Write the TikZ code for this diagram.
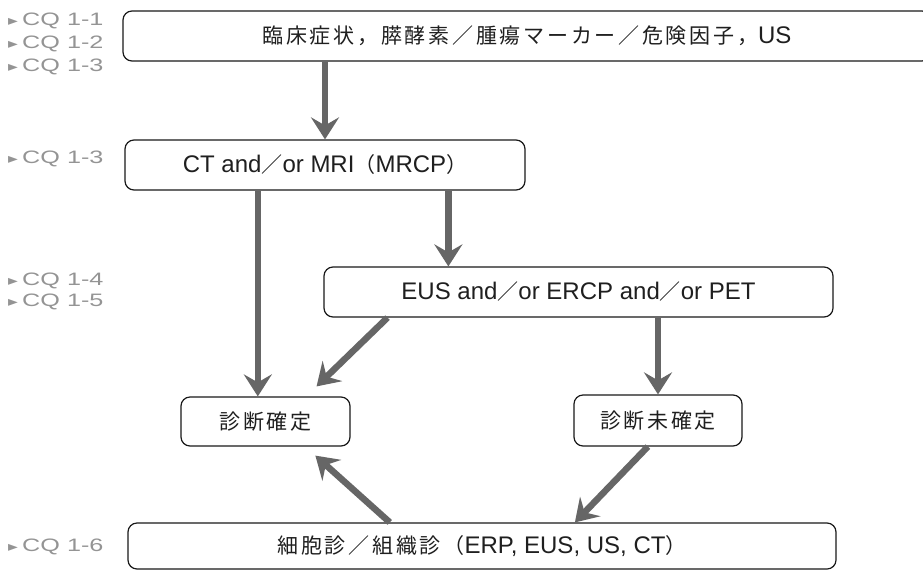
\documentclass[tikz,border=0pt]{standalone}
\usepackage{fontspec}
\usepackage{graphicx}
\setmainfont{Liberation Sans}
\newfontfamily\jpfont[LetterSpace=13]{Noto Sans CJK JP}
\newfontfamily\dvfont{DejaVu Sans}
\newcommand\jtxt[1]{{\fontsize{21}{25}\selectfont\jpfont #1}}
\newcommand\cqtxt[1]{\scalebox{1.4}[1]{{\dvfont\fontsize{14}{16}\selectfont ▸}\,CQ 1-#1}}
\usetikzlibrary{arrows.meta,calc}
\tikzset{
  box/.style={draw=black!90, line width=1.2pt, rounded corners=9pt, inner sep=0pt,
              font=\fontsize{24}{28}\selectfont, text=black!88},
  arr/.style={draw=black!60, line width=6.5pt,
              -{Stealth[length=22pt,width=28pt,inset=8pt]}},
  cq/.style={anchor=west, inner sep=0pt, text=black!42, font=\fontsize{18}{20}\selectfont}
}
\begin{document}
\begin{tikzpicture}[x=1pt,y=-1pt]
\clip (0,0) rectangle (923,571);
\fill[white] (0,0) rectangle (923,571);

% boxes
\node[box, minimum width=808pt, minimum height=50pt] (top) at (527,36)
  {\jtxt{臨床症状，膵酵素／腫瘍マーカー／危険因子，}US};
\node[box, minimum width=400pt, minimum height=50pt] (ct) at (325,165)
  {CT and\jtxt{／}or MRI\jtxt{（}MRCP\jtxt{）}};
\node[box, minimum width=509pt, minimum height=50pt] (eus) at (578.5,292)
  {EUS and\jtxt{／}or ERCP and\jtxt{／}or PET};
\node[box, minimum width=169pt, minimum height=49pt] (kak) at (265.5,421.5)
  {\jtxt{診断確定}};
\node[box, minimum width=168pt, minimum height=51pt] (mi) at (658,420.5)
  {\jtxt{診断未確定}};
\node[box, minimum width=708pt, minimum height=46pt] (bot) at (482,546)
  {\jtxt{細胞診／組織診（}ERP, EUS, US, CT\jtxt{）}};

% CQ labels
\node[cq] (cq11) at (8,21) {\cqtxt{1}};
\node[cq] (cq12) at (8,44) {\cqtxt{2}};
\node[cq] (cq13a) at (8,67) {\cqtxt{3}};
\node[cq] (cq13b) at (8,159) {\cqtxt{3}};
\node[cq] (cq14) at (8,281) {\cqtxt{4}};
\node[cq] (cq15) at (8,302) {\cqtxt{5}};
\node[cq] (cq16) at (8,547) {\cqtxt{6}};

% arrow anchor points
\coordinate (a1) at (ct.north |- top.south);
\coordinate (a2) at ($(ct.south west)!0.3325!(ct.south east)$);
\coordinate (a3) at ($(ct.south west)!0.8075!(ct.south east)$);
\coordinate (a4s) at ($(eus.south west)!0.1257!(eus.south east)$);
\coordinate (a4e) at ($(kak.north west)!0.8!(kak.north east)+(0,-10)$);
\coordinate (a5) at (mi.north |- eus.south);
\coordinate (a6s) at ($(mi.south west)!0.44!(mi.south east)$);
\coordinate (a6e) at ($(bot.north west)!0.631!(bot.north east)$);
\coordinate (a7s) at ($(bot.north west)!0.37!(bot.north east)$);
\coordinate (a7e) at ($(kak.south west)!0.793!(kak.south east)+(0,9)$);

% arrows
\draw[arr] (a1) -- (ct.north);
\draw[arr] (a2) -- (a2 |- kak.north);
\draw[arr] (a3) -- (a3 |- eus.north);
\draw[arr] (a4s) -- (a4e);
\draw[arr] (a5) -- (mi.north);
\draw[arr] (a6s) -- (a6e);
\draw[arr] (a7s) -- (a7e);
\end{tikzpicture}
\end{document}
